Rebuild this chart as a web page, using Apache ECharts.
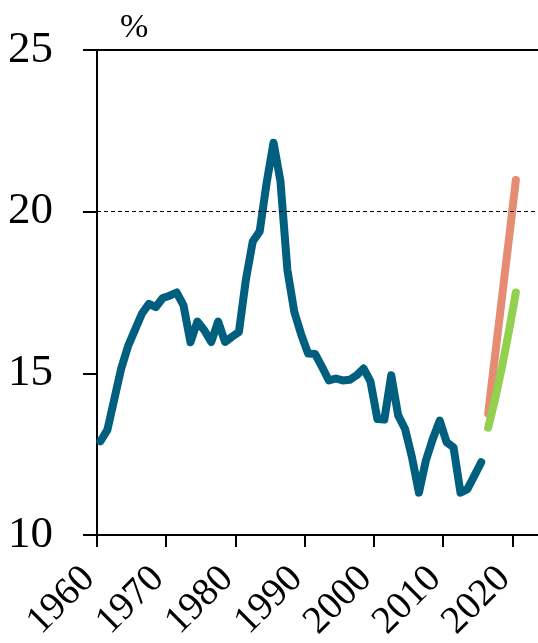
<!DOCTYPE html>
<html>
<head>
<meta charset="utf-8">
<script src="https://cdn.jsdelivr.net/npm/echarts@6/dist/echarts.min.js"></script>
<style>
  html, body { margin: 0; padding: 0; background: #fff; }
  #main { width: 538px; height: 643px; }
</style>
</head>
<body>
<div id="main"></div>
<script>
// annual values, plotted at mid-year
const histYears = [];
for (let y = 1960; y <= 2015; y++) histYears.push(y);
const histValues = [
  12.9, 13.25, 14.2, 15.15, 15.85, 16.35, 16.85, 17.15, 17.05, 17.33,
  17.4, 17.5, 17.1, 15.96, 16.6, 16.33, 15.97, 16.6, 15.97, 16.13,
  16.28, 17.89, 19.08, 19.39, 20.89, 22.13, 20.94, 18.2, 16.9, 16.2,
  15.61, 15.6, 15.2, 14.78, 14.84, 14.78, 14.8, 14.94, 15.15, 14.75,
  13.59, 13.57, 14.94, 13.7, 13.28, 12.4, 11.31, 12.3, 12.97, 13.54,
  12.87, 12.71, 11.31, 11.42, 11.83, 12.25
];
const projYears = [2016, 2017, 2018, 2019, 2020];
const highValues = [13.76, 15.55, 17.35, 19.15, 20.98];
const lowValues = [13.32, 14.2, 15.2, 16.3, 17.5];
const xTicks = [1960, 1970, 1980, 1990, 2000, 2010, 2020];
const yTicks = [10, 15, 20, 25];
const refLine = 20;

const pairs = (years, vals) => years.map((y, i) => [y + 0.5, vals[i]]);
const serif = '"Liberation Serif", "Times New Roman", serif';

const chart = echarts.init(document.getElementById('main'));
chart.setOption({
  animation: false,
  title: {
    text: '%', left: 115, top: 6,
    textStyle: { fontFamily: serif, fontSize: 34, fontWeight: 'normal', color: '#000' }
  },
  grid: {
    left: 97, right: 0, top: 50, bottom: 108,
    containLabel: false, outerBoundsMode: 'none'
  },
  xAxis: [{
    type: 'value', min: 1960, max: 2023.7, interval: 10,
    splitLine: { show: false },
    axisLine: { lineStyle: { color: '#000', width: 2 } },
    axisTick: { customValues: xTicks, length: 12, lineStyle: { color: '#000', width: 2 } },
    axisLabel: {
      customValues: xTicks, rotate: 45, margin: 46,
      align: 'right', verticalAlign: 'bottom', lineHeight: 23,
      formatter: v => String(v),
      fontFamily: serif, fontSize: 39, color: '#000'
    }
  }, {
    type: 'value', position: 'top', min: 1960, max: 2023.7,
    splitLine: { show: false }, axisTick: { show: false }, axisLabel: { show: false },
    axisLine: { lineStyle: { color: '#000', width: 2 } }
  }],
  yAxis: {
    type: 'value', min: yTicks[0], max: yTicks[yTicks.length - 1], interval: 5,
    splitLine: { show: false },
    axisLine: { show: true, lineStyle: { color: '#000', width: 2 } },
    axisTick: { show: true, length: 14, lineStyle: { color: '#000', width: 2 } },
    axisLabel: { margin: 44, fontFamily: serif, fontSize: 45, color: '#000' }
  },
  series: [{
    type: 'line', data: pairs(histYears, histValues), symbol: 'none', z: 3,
    lineStyle: { color: '#005f7e', width: 8, cap: 'round', join: 'round' },
    markLine: {
      silent: true, symbol: ['none', 'none'], label: { show: false },
      lineStyle: { color: '#000', width: 1, type: [4, 3] },
      data: [{ yAxis: refLine }]
    }
  }, {
    type: 'line', data: pairs(projYears, highValues), symbol: 'none', z: 3,
    lineStyle: { color: '#e58c72', width: 8, cap: 'round', join: 'round' }
  }, {
    type: 'line', data: pairs(projYears, lowValues), symbol: 'none', z: 4,
    lineStyle: { color: '#92d050', width: 8, cap: 'round', join: 'round' }
  }]
});
</script>
</body>
</html>
